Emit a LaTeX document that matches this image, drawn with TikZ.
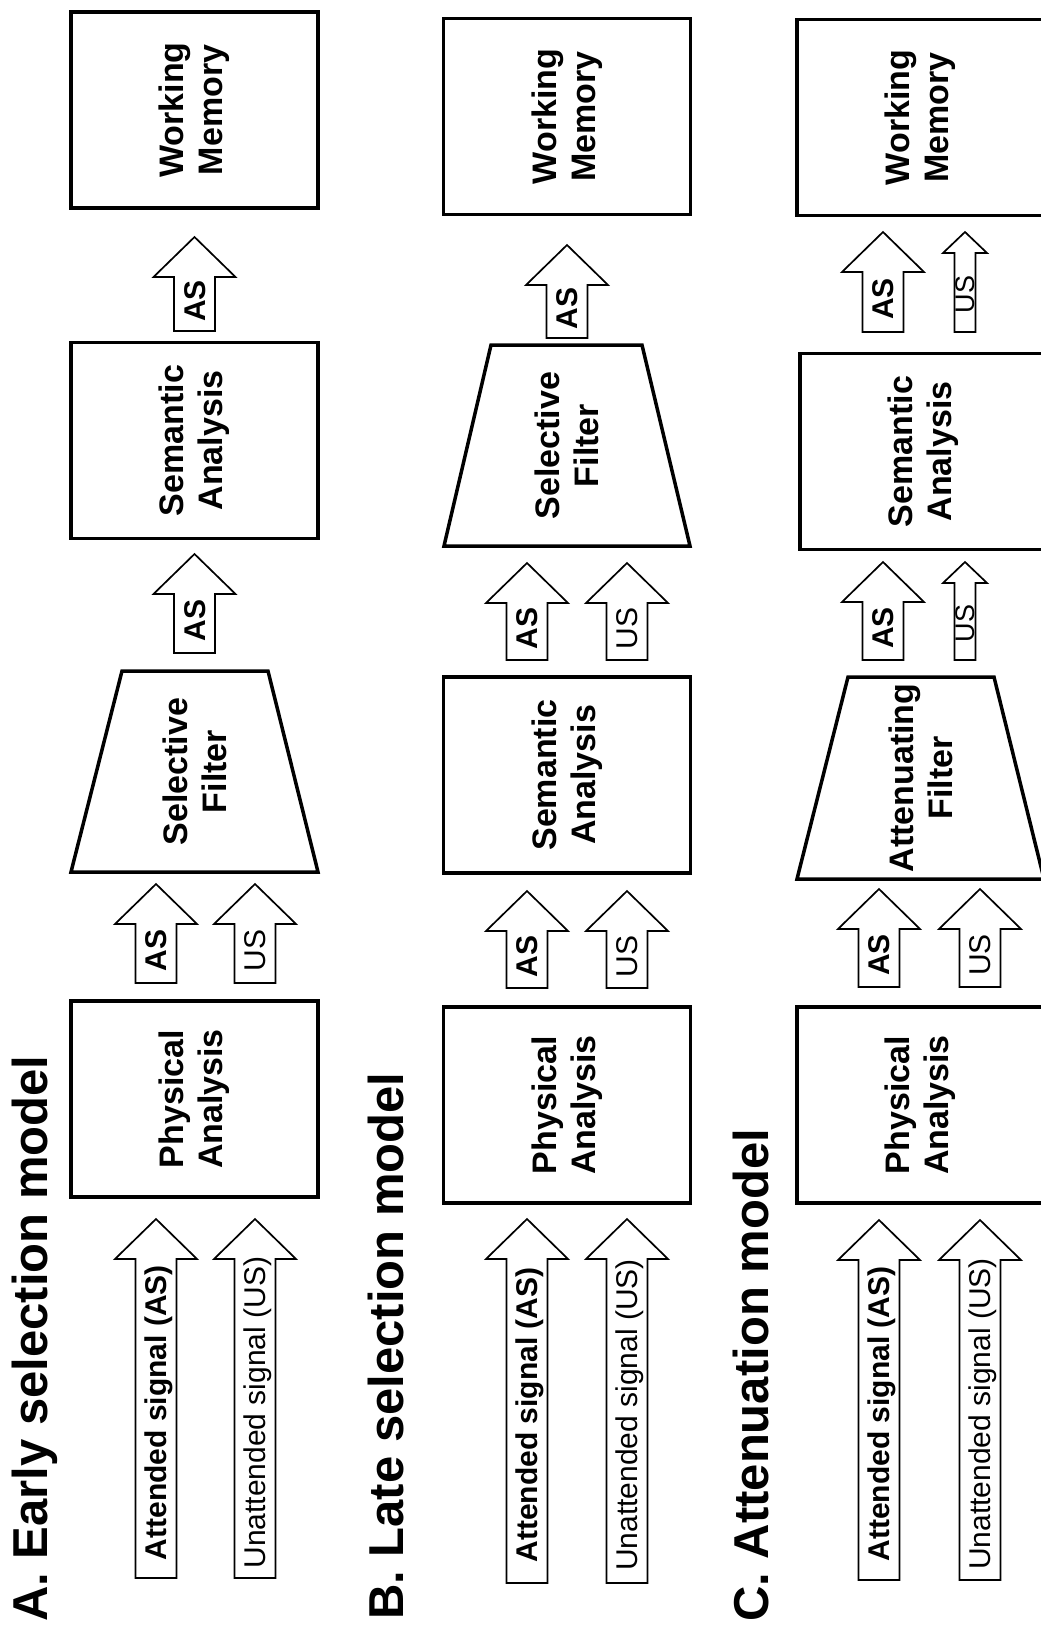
\documentclass[tikz,border=0pt]{standalone}
\usepackage{fontspec}
\setmainfont{Liberation Sans}

% block arrow: #1 name of shaft centre, #2 centre x, #3 tip y, #4 base y,
% #5 half head width, #6 half shaft width, #7 head length
\newcommand{\flowarrow}[7]{%
  \draw[flow] (#2,#3) -- (#2+#5,#3+#7) -- (#2+#6,#3+#7) -- (#2+#6,#4)
    -- (#2-#6,#4) -- (#2-#6,#3+#7) -- (#2-#5,#3+#7) -- cycle;
  \coordinate (#1) at (#2,{(#3+#7+#4)/2});}
\newcommand{\bigarrow}[4]{\flowarrow{#1}{#2}{#3}{#4}{41}{20.5}{40}}
\newcommand{\thinarrow}[4]{\flowarrow{#1}{#2}{#3}{#4}{22}{10.5}{21}}

\begin{document}
\begin{tikzpicture}[x=1pt,y=-1pt,
  stage/.style={draw, line width=3.5pt, fill=white, rotate=90, align=center,
    inner sep=0pt, minimum width=196pt, minimum height=247pt,
    font=\fontsize{34}{39}\selectfont\bfseries},
  sieve/.style={draw, line width=3.5pt, fill=white, line join=miter},
  sievetext/.style={rotate=90, align=center, inner sep=0pt,
    font=\fontsize{34}{39}\selectfont\bfseries},
  flow/.style={draw, line width=1.7pt, fill=white, line join=miter},
  strong/.style={rotate=90, anchor=base, inner sep=0pt,
    font=\fontsize{30}{34}\selectfont\bfseries},
  weak/.style={rotate=90, anchor=base, inner sep=0pt,
    font=\fontsize{30}{34}\selectfont},
  faint/.style={rotate=90, anchor=base, inner sep=0pt,
    font=\fontsize{27}{30}\selectfont},
  heading/.style={rotate=90, anchor=base west, inner sep=0pt,
    font=\fontsize{49}{55}\selectfont\bfseries}]

\useasboundingbox (0,0) rectangle (1041,1630);
\clip (0,0) rectangle (1041,1630);

% ---------------- A. Early selection model ----------------
\node[heading] (A-title) at (47,1622) {A. Early selection model};
\node[stage] (A-wm)   at (194.5,110)  {Working\\Memory};
\node[stage] (A-sem)  at (194.5,440.5) {Semantic\\Analysis};
\draw[sieve] (71,872) coordinate (A-f1) -- (318,872) coordinate (A-f2)
  -- (268,671) coordinate (A-f3) -- (122,671) coordinate (A-f4) -- cycle;
\node[sievetext] (A-filt) at (194.5,771.5) {Selective\\Filter};
\node[stage] (A-phys) at (194.5,1099) {Physical\\Analysis};

\bigarrow{A-a3}{194.5}{237}{331}
\node[strong] (A-a3t) at ([xshift=10.7pt,yshift=3pt]A-a3) {AS};
\bigarrow{A-a2}{194.5}{554}{653}
\node[strong] (A-a2t) at ([xshift=10.7pt,yshift=3pt]A-a2) {AS};
\bigarrow{A-a1}{156}{884}{983}
\node[strong] (A-a1t) at ([xshift=10.7pt,yshift=3pt]A-a1) {AS};
\bigarrow{A-u1}{255}{884}{983}
\node[weak] (A-u1t) at ([xshift=10.7pt,yshift=3pt]A-u1) {US};
\bigarrow{A-a0}{156}{1219}{1578}
\node[strong] (A-a0t) at ([xshift=10.7pt,yshift=6pt]A-a0) {Attended signal (AS)};
\bigarrow{A-u0}{255}{1219}{1578}
\node[weak] (A-u0t) at ([xshift=10.7pt,yshift=6pt]A-u0) {Unattended signal (US)};

% ---------------- B. Late selection model ----------------
\node[heading] (B-title) at (403,1620) {B. Late selection model};
\node[stage] (B-wm)   at (567,116.5) {Working\\Memory};
\draw[sieve] (444,546) coordinate (B-f1) -- (690,546) coordinate (B-f2)
  -- (642,345) coordinate (B-f3) -- (491,345) coordinate (B-f4) -- cycle;
\node[sievetext] (B-filt) at (567,445.5) {Selective\\Filter};
\node[stage] (B-sem)  at (567,775) {Semantic\\Analysis};
\node[stage] (B-phys) at (567,1105) {Physical\\Analysis};

\bigarrow{B-a3}{567}{245}{338}
\node[strong] (B-a3t) at ([xshift=10.7pt,yshift=3pt]B-a3) {AS};
\bigarrow{B-a2}{527}{563}{660}
\node[strong] (B-a2t) at ([xshift=10.7pt,yshift=3pt]B-a2) {AS};
\bigarrow{B-u2}{627}{563}{660}
\node[weak] (B-u2t) at ([xshift=10.7pt,yshift=3pt]B-u2) {US};
\bigarrow{B-a1}{527}{891}{988}
\node[strong] (B-a1t) at ([xshift=10.7pt,yshift=3pt]B-a1) {AS};
\bigarrow{B-u1}{627}{891}{988}
\node[weak] (B-u1t) at ([xshift=10.7pt,yshift=3pt]B-u1) {US};
\bigarrow{B-a0}{527}{1219}{1583}
\node[strong] (B-a0t) at ([xshift=10.7pt,yshift=6pt]B-a0) {Attended signal (AS)};
\bigarrow{B-u0}{627}{1219}{1583}
\node[weak] (B-u0t) at ([xshift=10.7pt,yshift=6pt]B-u0) {Unattended signal (US)};

% ---------------- C. Attenuation model ----------------
\node[heading] (C-title) at (768,1622) {C. Attenuation model};
\node[stage] (C-wm)   at (920.5,117.5) {Working\\Memory};
\node[stage] (C-sem)  at (923.5,451.5) {Semantic\\Analysis};
\draw[sieve] (797,879) coordinate (C-f1) -- (1044,879) coordinate (C-f2)
  -- (994,677) coordinate (C-f3) -- (848,677) coordinate (C-f4) -- cycle;
\node[sievetext] (C-filt) at (920.5,778) {Attenuating\\Filter};
\node[stage] (C-phys) at (920.5,1105) {Physical\\Analysis};

\bigarrow{C-a3}{883}{232}{332}
\node[strong] (C-a3t) at ([xshift=10.7pt,yshift=3pt]C-a3) {AS};
\thinarrow{C-u3}{965}{232}{332}
\node[faint] (C-u3t) at ([xshift=9.6pt,yshift=-2pt]C-u3) {US};
\bigarrow{C-a2}{883}{562}{660}
\node[strong] (C-a2t) at ([xshift=10.7pt,yshift=3pt]C-a2) {AS};
\thinarrow{C-u2}{965}{562}{660}
\node[faint] (C-u2t) at ([xshift=9.6pt,yshift=-2pt]C-u2) {US};
\bigarrow{C-a1}{879}{889}{987}
\node[strong] (C-a1t) at ([xshift=10.7pt,yshift=3pt]C-a1) {AS};
\bigarrow{C-u1}{980}{889}{987}
\node[weak] (C-u1t) at ([xshift=10.7pt,yshift=3pt]C-u1) {US};
\bigarrow{C-a0}{879}{1220}{1580}
\node[strong] (C-a0t) at ([xshift=10.7pt,yshift=6pt]C-a0) {Attended signal (AS)};
\bigarrow{C-u0}{980}{1220}{1580}
\node[weak] (C-u0t) at ([xshift=10.7pt,yshift=6pt]C-u0) {Unattended signal (US)};

\end{tikzpicture}
\end{document}
